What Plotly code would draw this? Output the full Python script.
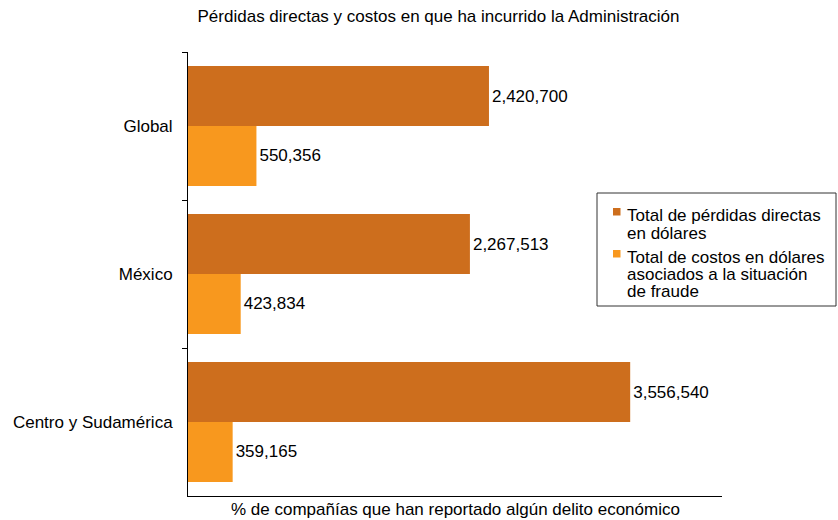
import plotly.graph_objects as go

categories = ["Global", "México", "Centro y Sudamérica"]
perdidas = [2420700, 2267513, 3556540]
costos = [550356, 423834, 359165]
series_names = ["Total de pérdidas directas en dólares",
                "Total de costos en dólares asociados a la situación de fraude"]
legend_lines = [["Total de pérdidas directas", "en dólares"],
                ["Total de costos en dólares", "asociados a la situación", "de fraude"]]
title_text = "Pérdidas directas y costos en que ha incurrido la Administración"
xaxis_text = "% de compañías que han reportado algún delito económico"

dark = "#CD6E1D"
light = "#F8981E"
colors = [dark, light]
font = "Liberation Sans, Arial, sans-serif"
fs = 17

# page-pixel -> paper helpers
L, T, PW, PH = 188, 52, 534, 444
def px(x):
    return (x - L) / PW
def py(y):
    return (T + PH - y) / PH

fig = go.Figure()
fig.add_trace(go.Bar(y=categories, x=perdidas, orientation="h", name=series_names[0],
                     marker=dict(color=dark, line=dict(width=0)),
                     text=[f"{v:,}" for v in perdidas], textposition="outside",
                     textfont=dict(size=fs, color="black"), cliponaxis=False))
fig.add_trace(go.Bar(y=categories, x=costos, orientation="h", name=series_names[1],
                     marker=dict(color=light, line=dict(width=0)),
                     text=[f"{v:,}" for v in costos], textposition="outside",
                     textfont=dict(size=fs, color="black"), cliponaxis=False))

fig.update_layout(
    width=838, height=520,
    margin=dict(l=188, r=116, t=52, b=24, autoexpand=False),
    paper_bgcolor="white", plot_bgcolor="white",
    font=dict(family=font, size=fs, color="black"),
    barmode="group", bargap=0.19, bargroupgap=0,
    title=dict(text=title_text, x=px(438.5), xref="paper", xanchor="center",
               y=1, yref="container", yanchor="top", pad=dict(t=10),
               font=dict(size=fs, family=font, color="black")),
    showlegend=False,
    xaxis=dict(range=[0, 4295000], showgrid=False, zeroline=False,
               showticklabels=False, showline=True, linecolor="black",
               linewidth=1, ticks=""),
    yaxis=dict(autorange="reversed", showgrid=False, showline=True,
               linecolor="black", linewidth=1, ticks="outside", ticklen=5,
               tickcolor="black", tickson="boundaries", ticklabelstandoff=11,
               tickfont=dict(size=fs, family=font)),
)
fig.add_annotation(text=xaxis_text, xref="paper", yref="paper", x=px(455.5), y=0,
                   xanchor="center", yanchor="top", yshift=-2, showarrow=False,
                   font=dict(size=fs, family=font, color="black"))

# legend box
fig.add_shape(type="rect", xref="paper", yref="paper",
              x0=px(597), x1=px(836), y0=py(193), y1=py(306),
              line=dict(color="#333333", width=1), fillcolor="white", layer="above")
square_tops = [208, 250]
line_centers = [[215, 233], [257, 274, 291]]
for i in range(2):
    st = square_tops[i]
    fig.add_shape(type="rect", xref="paper", yref="paper",
                  x0=px(613), x1=px(620.5), y0=py(st), y1=py(st + 7.5),
                  line=dict(width=0), fillcolor=colors[i], layer="above")
    for txt, yc in zip(legend_lines[i], line_centers[i]):
        fig.add_annotation(text=txt, xref="paper", yref="paper", x=px(625), y=py(yc),
                           xanchor="left", yanchor="middle", showarrow=False,
                           font=dict(size=fs, family=font, color="black"))
fig.write_html("out.html", config={"displayModeBar": False},
               post_script="document.body.style.margin='0';document.body.style.overflow='hidden';")
